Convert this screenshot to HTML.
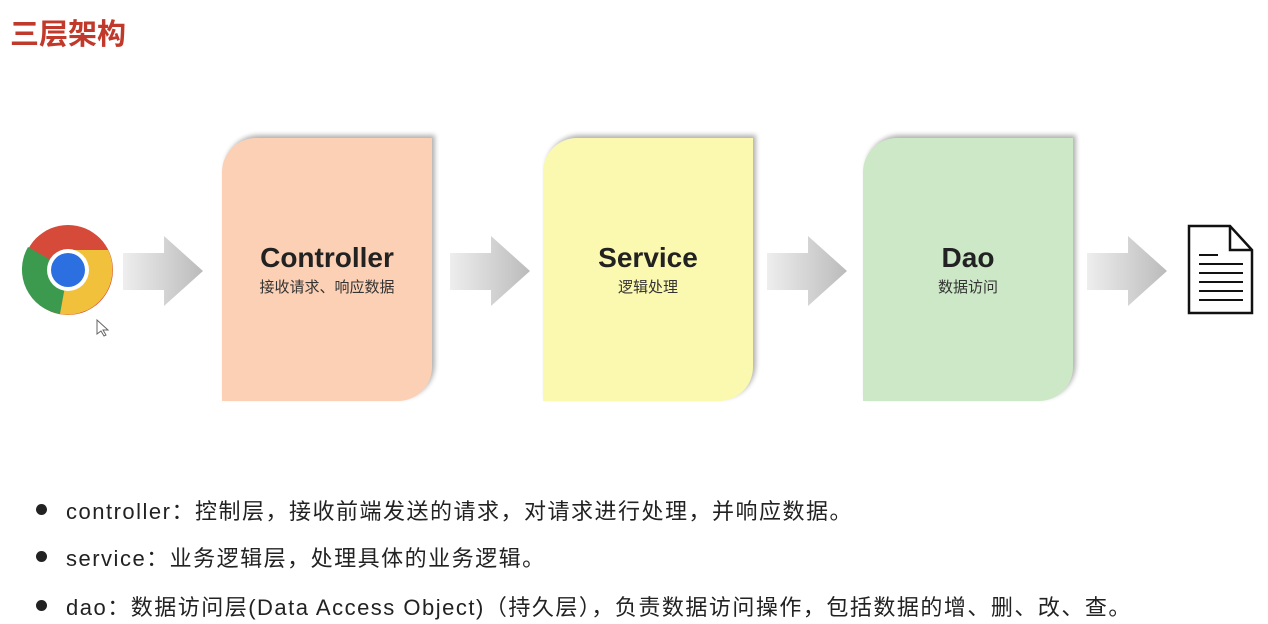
<!DOCTYPE html>
<html><head><meta charset="utf-8"><style>
body{margin:0;width:1268px;height:624px;background:#fff;position:relative;overflow:hidden;font-family:"Liberation Sans","Noto Sans CJK SC",sans-serif}
.t{position:absolute;left:10px;top:11px;font-size:29px;font-weight:bold;color:#c0392b}
.box{position:absolute;top:138px;width:210px;height:263px;border-radius:34px 0 34px 0;box-shadow:3px -3px 5px rgba(0,0,0,.3);text-align:center}
.box b{display:block;margin-top:104px;font-size:28px;color:#222}
.box span{display:block;font-size:15px;color:#333;margin-top:2px}
.li{position:absolute;left:40px;font-size:22px;letter-spacing:1.5px;color:#222}
.li:before{content:"";position:absolute;left:-4px;top:10px;width:11px;height:11px;border-radius:50%;background:#222}
.li p{margin:0 0 0 26px;white-space:nowrap}
</style></head><body>
<div class="t">三层架构</div>
<svg width="1268" height="624" style="position:absolute;left:0;top:0">
<defs><linearGradient id="g" x1="0" x2="1"><stop offset="0" stop-color="#eee"/><stop offset="1" stop-color="#bbb"/></linearGradient></defs>
<g fill="url(#g)">
<polygon points="123,253 164,253 164,236 203,271 164,306 164,290 123,290"/>
<polygon points="450,253 491,253 491,236 530,271 491,306 491,290 450,290"/>
<polygon points="767,253 808,253 808,236 847,271 808,306 808,290 767,290"/>
<polygon points="1087,253 1128,253 1128,236 1167,271 1128,306 1128,290 1087,290"/>
</g>
<circle cx="68" cy="270" r="45" fill="#d64a3a"/>
<path d="M68 270 L28 247 A45 45 0 0 0 60 314 Z" fill="#3b9a4e"/>
<path d="M68 270 L60 314 A45 45 0 0 0 108 250 L68 250 Z" fill="#f2c13c"/>
<circle cx="68" cy="270" r="21" fill="#fff"/>
<circle cx="68" cy="270" r="17" fill="#2b6fe0"/>
<path d="M1189 226 H1230 L1252 250 V313 H1189 Z M1230 226 V250 H1252" fill="#fff" stroke="#111" stroke-width="2.5"/>
<g stroke="#111" stroke-width="2"><line x1="1199" y1="255" x2="1218" y2="255"/><line x1="1199" y1="264" x2="1243" y2="264"/><line x1="1199" y1="273" x2="1243" y2="273"/><line x1="1199" y1="282" x2="1243" y2="282"/><line x1="1199" y1="291" x2="1243" y2="291"/><line x1="1199" y1="300" x2="1243" y2="300"/></g>
<path d="M97 320 v14 l4-3 l3 5 l2-1 l-3-5 h5 z" fill="#fff" stroke="#666"/>
</svg>
<div class="box" style="left:222px;background:#fcd0b4"><b>Controller</b><span>接收请求、响应数据</span></div>
<div class="box" style="left:543px;background:#fbf8b0"><b>Service</b><span>逻辑处理</span></div>
<div class="box" style="left:863px;background:#cce8c6"><b>Dao</b><span>数据访问</span></div>
<div class="li" style="top:494px"><p>controller：控制层，接收前端发送的请求，对请求进行处理，并响应数据。</p></div>
<div class="li" style="top:541px"><p>service：业务逻辑层，处理具体的业务逻辑。</p></div>
<div class="li" style="top:590px"><p>dao：数据访问层(Data Access Object)（持久层），负责数据访问操作，包括数据的增、删、改、查。</p></div>
</body></html>
